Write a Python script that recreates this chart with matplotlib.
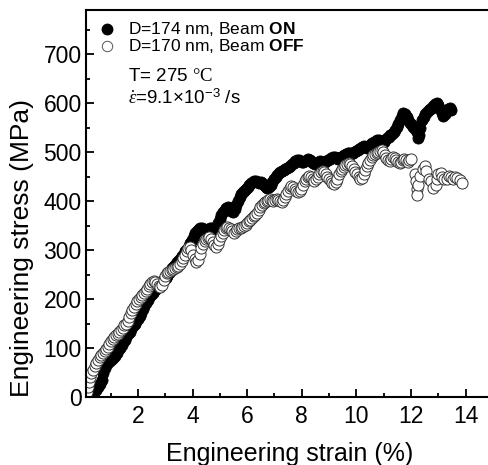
import matplotlib
matplotlib.use('Agg')
import matplotlib.pyplot as plt
from matplotlib.ticker import MultipleLocator

plt.rcParams['font.family'] = ['Liberation Sans', 'DejaVu Sans']
plt.rcParams['mathtext.fontset'] = 'custom'
plt.rcParams['mathtext.rm'] = 'Liberation Serif'
plt.rcParams['mathtext.it'] = 'Liberation Serif:italic'
plt.rcParams['mathtext.bf'] = 'Liberation Sans:bold'
plt.rcParams['mathtext.sf'] = 'Liberation Sans'

# beam ON, D=174 nm (filled)
on_strain = [0.25, 0.32, 0.40, 0.48, 0.55, 0.62, 0.68, 0.74, 0.80, 0.86, 0.92, 0.98, 1.04, 1.10, 1.16,
             1.22, 1.28, 1.34, 1.40, 1.46, 1.52, 1.58, 1.64, 1.70, 1.76, 1.82, 1.88, 1.94, 2.00, 2.06,
             2.12, 2.18, 2.24, 2.30, 2.36, 2.42, 2.48, 2.54, 2.60, 2.66, 2.72, 2.78, 2.84, 2.90, 2.96,
             3.02, 3.08, 3.14, 3.20, 3.26, 3.32, 3.38, 3.44, 3.50, 3.56, 3.62, 3.68, 3.74, 3.80, 3.86,
             3.92, 3.98, 4.04, 4.10, 4.16, 4.22, 4.28, 4.34, 4.40, 4.46, 4.52, 4.58, 4.64, 4.70, 4.76,
             4.82, 4.88, 4.94, 5.00, 5.06, 5.12, 5.18, 5.24, 5.30, 5.36, 5.42, 5.48, 5.54, 5.60, 5.66,
             5.72, 5.78, 5.84, 5.90, 5.96, 6.02, 6.08, 6.14, 6.20, 6.26, 6.32, 6.38, 6.44, 6.50, 6.56,
             6.62, 6.68, 6.74, 6.80, 6.86, 6.92, 6.98, 7.04, 7.10, 7.16, 7.22, 7.28, 7.34, 7.40, 7.46,
             7.52, 7.58, 7.64, 7.70, 7.76, 7.82, 7.88, 7.94, 8.00, 8.06, 8.12, 8.18, 8.24, 8.30, 8.36,
             8.42, 8.48, 8.54, 8.60, 8.66, 8.72, 8.78, 8.84, 8.90, 8.96, 9.02, 9.08, 9.14, 9.20, 9.26,
             9.32, 9.38, 9.44, 9.50, 9.56, 9.62, 9.68, 9.74, 9.80, 9.86, 9.92, 9.98, 10.04, 10.10, 10.16,
             10.22, 10.28, 10.34, 10.40, 10.46, 10.52, 10.58, 10.64, 10.70, 10.76, 10.82, 10.88, 10.94, 11.00, 11.06,
             11.12, 11.18, 11.24, 11.30, 11.36, 11.42, 11.48, 11.54, 11.60, 11.66, 11.72, 11.78, 11.84, 11.90, 11.96,
             12.02, 12.08, 12.14, 12.20, 12.24, 12.28, 12.34, 12.40, 12.46, 12.52, 12.58, 12.64, 12.70, 12.76, 12.82,
             12.88, 12.94, 13.00, 13.06, 13.12, 13.18, 13.24, 13.30, 13.36, 13.42, 13.48]
on_stress = [0, 5, 10, 15, 20, 26, 35, 48, 60, 68, 72, 74, 78, 80, 84,
             90, 95, 100, 106, 112, 116, 122, 128, 132, 138, 145, 150, 155, 160, 166,
             172, 180, 186, 192, 198, 204, 208, 212, 216, 220, 224, 228, 232, 236, 238,
             242, 248, 254, 260, 264, 268, 272, 276, 280, 284, 288, 292, 298, 303, 308,
             314, 320, 328, 334, 338, 342, 345, 344, 342, 338, 336, 340, 346, 344, 340,
             342, 348, 356, 364, 372, 378, 382, 386, 388, 386, 380, 378, 384, 392, 400,
             408, 414, 418, 420, 424, 428, 432, 436, 438, 440, 440, 438, 436, 438, 436,
             432, 428, 426, 428, 432, 438, 444, 450, 454, 458, 460, 462, 464, 466, 468,
             470, 472, 476, 478, 482, 484, 484, 482, 480, 480, 482, 484, 486, 484, 480,
             478, 476, 478, 480, 482, 480, 478, 480, 482, 484, 486, 488, 490, 490, 488,
             486, 488, 490, 492, 494, 496, 498, 498, 496, 498, 500, 502, 504, 506, 508,
             510, 512, 510, 508, 512, 516, 518, 520, 522, 524, 524, 522, 518, 520, 524,
             528, 530, 534, 536, 540, 546, 552, 558, 566, 574, 580, 578, 572, 566, 560,
             556, 552, 548, 540, 528, 535, 550, 565, 572, 578, 582, 586, 588, 590, 594,
             598, 600, 596, 588, 580, 574, 578, 584, 588, 590, 586]

# beam OFF, D=170 nm (open)
off_strain = [0.12, 0.16, 0.20, 0.25, 0.30, 0.36, 0.42, 0.48, 0.54, 0.60, 0.66, 0.72, 0.78, 0.84, 0.90,
              0.96, 1.02, 1.08, 1.14, 1.20, 1.26, 1.32, 1.38, 1.44, 1.50, 1.56, 1.62, 1.68, 1.74, 1.80,
              1.86, 1.92, 1.98, 2.04, 2.10, 2.16, 2.22, 2.28, 2.34, 2.40, 2.46, 2.52, 2.58, 2.64, 2.70,
              2.76, 2.82, 2.88, 2.94, 3.00, 3.06, 3.12, 3.18, 3.24, 3.30, 3.36, 3.42, 3.48, 3.54, 3.60,
              3.66, 3.72, 3.78, 3.84, 3.90, 3.96, 4.02, 4.08, 4.14, 4.20, 4.26, 4.32, 4.38, 4.44, 4.50,
              4.56, 4.62, 4.68, 4.74, 4.80, 4.86, 4.92, 4.98, 5.04, 5.10, 5.16, 5.22, 5.28, 5.34, 5.40,
              5.46, 5.52, 5.58, 5.64, 5.70, 5.76, 5.82, 5.88, 5.94, 6.00, 6.06, 6.12, 6.18, 6.24, 6.30,
              6.36, 6.42, 6.48, 6.54, 6.60, 6.66, 6.72, 6.78, 6.84, 6.90, 6.96, 7.02, 7.08, 7.14, 7.20,
              7.26, 7.32, 7.38, 7.44, 7.50, 7.56, 7.62, 7.68, 7.74, 7.80, 7.86, 7.92, 7.98, 8.04, 8.10,
              8.16, 8.22, 8.28, 8.34, 8.40, 8.46, 8.52, 8.58, 8.64, 8.70, 8.76, 8.82, 8.88, 8.94, 9.00,
              9.06, 9.12, 9.18, 9.24, 9.30, 9.36, 9.42, 9.48, 9.54, 9.60, 9.66, 9.72, 9.78, 9.84, 9.90,
              9.96, 10.02, 10.08, 10.14, 10.20, 10.26, 10.32, 10.38, 10.44, 10.50, 10.56, 10.62, 10.68, 10.74, 10.80,
              10.86, 10.92, 10.98, 11.04, 11.10, 11.16, 11.22, 11.28, 11.34, 11.40, 11.46, 11.52, 11.58, 11.64, 11.70,
              11.76, 11.82, 11.88, 11.94, 12.00, 12.14, 12.18, 12.20, 12.22, 12.26, 12.34, 12.44, 12.50, 12.56, 12.66,
              12.74, 12.80, 12.90, 12.94, 13.00, 13.08, 13.14, 13.22, 13.30, 13.38, 13.46, 13.54, 13.62, 13.70, 13.78,
              13.86]
off_stress = [10, 20, 30, 40, 48, 56, 64, 70, 76, 82, 86, 90, 94, 98, 102,
              108, 114, 118, 122, 126, 128, 132, 136, 140, 146, 150, 156, 164, 172, 178,
              184, 190, 196, 200, 204, 208, 212, 216, 220, 226, 230, 234, 236, 234, 230,
              226, 224, 228, 238, 248, 254, 256, 258, 260, 262, 264, 266, 268, 272, 278,
              284, 290, 298, 304, 306, 300, 290, 282, 276, 280, 292, 304, 312, 318, 322,
              324, 326, 322, 316, 310, 306, 312, 320, 328, 334, 340, 346, 348, 346, 342,
              338, 334, 338, 342, 344, 346, 348, 350, 352, 356, 360, 362, 366, 370, 372,
              376, 382, 388, 392, 396, 398, 400, 402, 404, 402, 400, 402, 404, 402, 400,
              398, 402, 408, 414, 420, 426, 430, 428, 424, 420, 418, 420, 424, 432, 440,
              446, 450, 452, 450, 446, 440, 444, 450, 456, 460, 462, 460, 456, 450, 446,
              440, 436, 434, 438, 446, 456, 462, 466, 470, 474, 476, 478, 476, 472, 466,
              460, 456, 450, 446, 448, 456, 464, 472, 478, 484, 490, 494, 496, 498, 500,
              502, 504, 500, 494, 488, 484, 482, 486, 490, 488, 484, 480, 478, 480, 484,
              486, 484, 480, 484, 486, 456, 440, 424, 412, 432, 452, 466, 472, 462, 446,
              440, 426, 432, 446, 456, 458, 450, 444, 446, 452, 450, 446, 450, 448, 442,
              436]

x_ticks = [2, 4, 6, 8, 10, 12, 14]
y_ticks = [0, 100, 200, 300, 400, 500, 600, 700]

fig = plt.figure(figsize=(4.88, 4.65), dpi=100)
ax = fig.add_axes([86 / 488, 1 - 397 / 465, 407 / 488, 387 / 465])

ax.plot(on_strain, on_stress, 'o', ms=8, mfc='black', mec='black', mew=0.6, ls='none')
ax.plot(off_strain, off_stress, 'o', ms=8, mfc='white', mec='#333333', mew=0.7, ls='none')

ax.set_xlim(0.1, 15)
ax.set_ylim(0, 790)
ax.set_xticks(x_ticks)
ax.set_yticks(y_ticks)
ax.xaxis.set_minor_locator(MultipleLocator(1))
ax.yaxis.set_minor_locator(MultipleLocator(50))
ax.tick_params(which='both', direction='in', labelsize=16.5, width=1.3)
ax.tick_params(which='major', length=6)
ax.tick_params(axis='x', which='major', pad=6)
ax.tick_params(axis='y', which='major', pad=3)
ax.tick_params(which='minor', length=3)
for s in ax.spines.values():
    s.set_linewidth(1.5)

ax.set_xlabel('Engineering strain (%)', fontsize=18, labelpad=10)
ax.set_ylabel('Engineering stress (MPa)', fontsize=19)
ax.yaxis.set_label_coords(-0.128, 0.385)

# legend drawn by hand
ax.plot([0.052], [0.951], 'o', ms=7.5, mfc='black', mec='black', transform=ax.transAxes, clip_on=False)
ax.plot([0.052], [0.906], 'o', ms=7.5, mfc='white', mec='#555555', mew=0.7, transform=ax.transAxes, clip_on=False)
ax.text(0.103, 0.951, r'D=174 nm, Beam $\mathbf{ON}$', transform=ax.transAxes, fontsize=12.5, va='center')
ax.text(0.103, 0.906, r'D=170 nm, Beam $\mathbf{OFF}$', transform=ax.transAxes, fontsize=12.5, va='center')
ax.text(0.103, 0.827, r'T= 275 $\mathrm{°C}$', transform=ax.transAxes, fontsize=13.5, va='center')
ax.text(0.103, 0.771, r'$\dot{\varepsilon}$=9.1×10$^{\mathsf{-3}}$ /s', transform=ax.transAxes,
        fontsize=13.5, va='center')

fig.savefig('out.png', dpi=100)
